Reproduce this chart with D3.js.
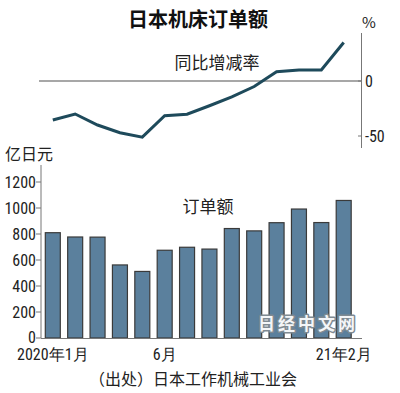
<!DOCTYPE html>
<html>
<head>
<meta charset="utf-8">
<script src="https://cdn.jsdelivr.net/npm/d3@7"></script>
<style>
body { margin: 0; background: #fff; }
text { font-family: "Noto Sans CJK SC", "Noto Sans", sans-serif; }
.num { font-family: "Liberation Sans Narrow", "Roboto Condensed", "Liberation Sans", sans-serif; }
</style>
</head>
<body>
<script>
// months Jan 2020 .. Feb 2021
var months = ["2020-01","2020-02","2020-03","2020-04","2020-05","2020-06","2020-07",
              "2020-08","2020-09","2020-10","2020-11","2020-12","2021-01","2021-02"];
// order amount, 100 million yen
var orders = [810, 777, 776, 562, 512, 675, 698, 684, 842, 824, 887, 992, 888, 1058];
// year on year change, %
var yoy = [-35.5, -30, -40, -47, -51, -31.6, -30.2, -22.5, -14.5, -5, 8.5, 10, 10, 35];
var barTicks = [0, 200, 400, 600, 800, 1000, 1200];
var lineTicks = [0, -50];
var xLabels = {"2020-01": "2020年1月", "2020-06": "6月", "2021-02": "21年2月"};

var width = 400, height = 393;

var svg = d3.select("body").append("svg")
	.attr("width", width)
	.attr("height", height);

var x = d3.scaleBand()
	.domain(months)
	.range([41.5, 355])
	.paddingInner(0.33)
	.paddingOuter(0.17);

// ---- title
svg.append("text")
	.attr("x", 198).attr("y", 27)
	.attr("text-anchor", "middle")
	.attr("font-size", "20px")
	.attr("font-weight", "bold")
	.attr("fill", "#111")
	.text("日本机床订单额");

// ---- line chart (top)
var yl = d3.scaleLinear().domain([-50, 0]).range([136, 81]);

svg.append("line")
	.attr("x1", 39).attr("x2", 361)
	.attr("y1", yl(0)).attr("y2", yl(0))
	.attr("stroke", "#8a8a8a").attr("stroke-width", 1.5);

svg.append("line")
	.attr("x1", 361.5).attr("x2", 361.5)
	.attr("y1", 33).attr("y2", 148)
	.attr("stroke", "#777").attr("stroke-width", 1);

svg.selectAll(".ltick")
	.data(lineTicks)
	.enter().append("line")
	.attr("x1", 358).attr("x2", 361.5)
	.attr("y1", function(d){ return yl(d); })
	.attr("y2", function(d){ return yl(d); })
	.attr("stroke", "#777");

svg.selectAll(".llab")
	.data(lineTicks)
	.enter().append("text")
	.attr("class", "num")
	.attr("x", 365)
	.attr("y", function(d){ return yl(d); })
	.attr("dy", "0.36em")
	.attr("font-size", "16px")
	.attr("fill", "#222")
	.text(function(d){ return d; });

svg.append("text")
	.attr("x", 362).attr("y", 28)
	.attr("font-size", "15px")
	.attr("fill", "#222")
	.text("%");

svg.append("text")
	.attr("x", 217).attr("y", 69)
	.attr("text-anchor", "middle")
	.attr("font-size", "17px")
	.attr("fill", "#222")
	.text("同比增减率");

var line = d3.line()
	.x(function(d, i){ return x(months[i]) + x.bandwidth() / 2; })
	.y(function(d){ return yl(d); });

svg.append("path")
	.datum(yoy)
	.attr("d", line)
	.attr("fill", "none")
	.attr("stroke", "#1e4a5b")
	.attr("stroke-width", 3)
	.attr("stroke-linejoin", "miter");

// ---- bar chart (bottom)
var yb = d3.scaleLinear().domain([0, 1200]).range([338, 182]);

svg.append("text")
	.attr("x", 5).attr("y", 160)
	.attr("font-size", "16px")
	.attr("fill", "#222")
	.text("亿日元");

svg.append("line")
	.attr("x1", 41).attr("x2", 41)
	.attr("y1", 165).attr("y2", 338)
	.attr("stroke", "#777");

svg.selectAll(".btick")
	.data(barTicks)
	.enter().append("line")
	.attr("x1", 36).attr("x2", 41)
	.attr("y1", function(d){ return yb(d); })
	.attr("y2", function(d){ return yb(d); })
	.attr("stroke", "#777");

svg.selectAll(".blab")
	.data(barTicks)
	.enter().append("text")
	.attr("class", "num")
	.attr("x", 36)
	.attr("y", function(d){ return yb(d) - (d === 0 ? 1 : 0); })
	.attr("dy", "0.36em")
	.attr("text-anchor", "end")
	.attr("font-size", "16px")
	.attr("fill", "#222")
	.text(function(d){ return d; });

svg.selectAll(".bar")
	.data(orders)
	.enter().append("rect")
	.attr("x", function(d, i){ return x(months[i]); })
	.attr("y", function(d){ return yb(d); })
	.attr("width", x.bandwidth())
	.attr("height", function(d){ return yb(0) - yb(d); })
	.attr("fill", "#5b809d")
	.attr("stroke", "#3a3a3a")
	.attr("stroke-width", 1.2);

svg.append("line")
	.attr("x1", 41).attr("x2", 362)
	.attr("y1", 338.5).attr("y2", 338.5)
	.attr("stroke", "#777").attr("stroke-width", 1.2);

svg.append("text")
	.attr("x", 208).attr("y", 213)
	.attr("text-anchor", "middle")
	.attr("font-size", "17px")
	.attr("fill", "#222")
	.text("订单额");

svg.selectAll(".xlab")
	.data(months.filter(function(m){ return xLabels[m]; }))
	.enter().append("text")
	.attr("class", "num")
	.attr("x", function(d){ return x(d) + x.bandwidth() / 2; })
	.attr("y", 360)
	.attr("text-anchor", "middle")
	.attr("font-size", "16px")
	.attr("fill", "#222")
	.text(function(d){ return xLabels[d]; });

// watermark
svg.append("text")
	.attr("x", 308).attr("y", 330)
	.attr("text-anchor", "middle")
	.attr("font-size", "17px")
	.attr("font-weight", "bold")
	.attr("letter-spacing", "3px")
	.attr("fill", "#f4f6f8")
	.attr("stroke", "#7f8a92")
	.attr("stroke-width", 3)
	.attr("stroke-linejoin", "round")
	.attr("paint-order", "stroke")
	.text("日经中文网");

// source
svg.append("text")
	.attr("x", 193).attr("y", 385)
	.attr("text-anchor", "middle")
	.attr("font-size", "16px")
	.attr("fill", "#222")
	.text("（出处）日本工作机械工业会");
</script>
</body>
</html>
